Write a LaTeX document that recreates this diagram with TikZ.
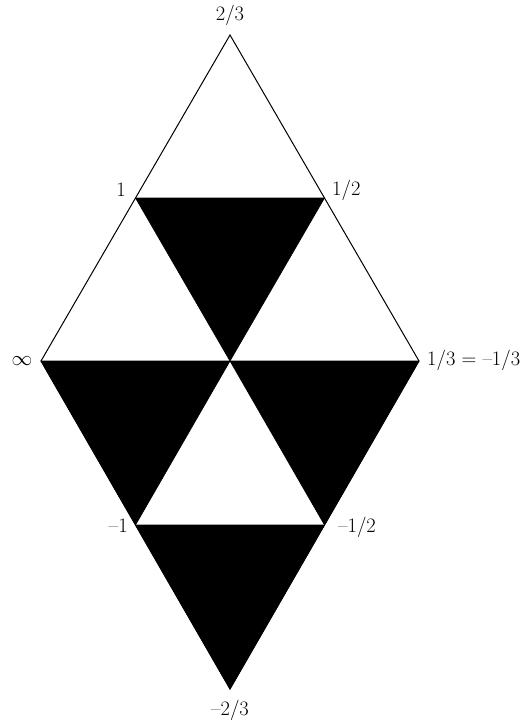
\documentclass[tikz,border=0pt]{standalone}
\usetikzlibrary{calc}
\begin{document}
\begin{tikzpicture}[x=1pt,y=-1pt,
  lbl/.style={inner sep=0pt,font=\fontsize{20.5}{24}\selectfont},
  edge/.style={line width=1pt,line join=miter},
  tri/.style={fill=black,draw=black,line width=0.6pt,line join=miter}]
\useasboundingbox (0,0) rectangle (525,725);
\coordinate (T) at (230,35);
\coordinate (ML) at (41,361);
\coordinate (MR) at (419,361);
\coordinate (B) at (230,689);
\coordinate (UL) at ($(ML)!0.5!(T)$);
\coordinate (UR) at ($(MR)!0.5!(T)$);
\coordinate (C) at ($(ML)!0.5!(MR)$);
\coordinate (LL) at ($(ML)!0.5!(B)$);
\coordinate (LR) at ($(MR)!0.5!(B)$);
% outline
\draw[edge] (ML) -- (T) -- (MR) -- (B) -- cycle;
\draw[edge] (ML) -- (MR);
\draw[edge] (UL) -- (UR);
% black triangles
\fill[tri] (UL) -- (UR) -- (C) -- cycle;
\fill[tri] (ML) -- (C) -- (LL) -- cycle;
\fill[tri] (C) -- (MR) -- (LR) -- cycle;
\fill[tri] (LL) -- (LR) -- (B) -- cycle;
% labels
\node[lbl] (lT) at (230,15) {2/3};
\node[lbl,anchor=east] (lUL) at (126,190) {1};
\node[lbl,anchor=west] (lUR) at (332,190) {1/2};
\node[lbl] (lML) at (22,361) {$\infty$};
\node[lbl,anchor=west] (lMR) at (427,360) {1/3 = --1/3};
\node[lbl,anchor=east] (lLL) at (128,526) {--1};
\node[lbl,anchor=west] (lLR) at (338,527) {--1/2};
\node[lbl] (lB) at (230,710) {--2/3};
\end{tikzpicture}
\end{document}
